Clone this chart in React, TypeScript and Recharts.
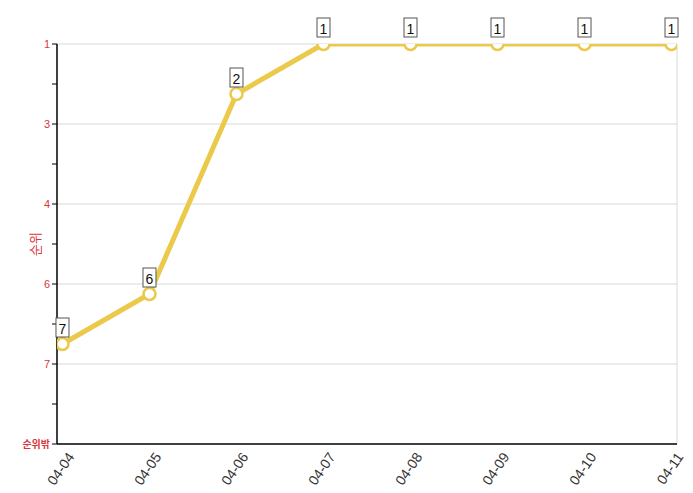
import React from 'react';
import { LineChart, Line, XAxis, YAxis, ReferenceLine, LabelList } from 'recharts';

const dates = ['04-04', '04-05', '04-06', '04-07', '04-08', '04-09', '04-10', '04-11'];
const ranks = [7, 6, 2, 1, 1, 1, 1, 1];
const outRank = 9;
const yMajorTicks = [1, 2.6, 4.2, 5.8, 7.4, 9];
const yMinorTicks = [1.8, 3.4, 5, 6.6, 8.2];

const data = dates.map((d, i) => ({ i, date: d, rank: ranks[i] }));

const pad = 0.063;
const xDomain: [number, number] = [-pad, dates.length - 1 + pad];
const xMinorTicks = Array.from({ length: 21 }, (_, k) => xDomain[0] + (k * (xDomain[1] - xDomain[0])) / 20);
const yTicks = [...yMajorTicks, ...yMinorTicks].sort((a, b) => a - b);

const LINE_COLOR = '#ebc94a';
const LABEL_RED = '#d9363e';

const YTick = (props: any) => {
  const { x, y, payload } = props;
  const v = payload.value;
  const isMajor = yMajorTicks.some((m) => Math.abs(m - v) < 1e-6);
  if (!isMajor) return null;
  const isOut = Math.abs(v - outRank) < 1e-6;
  const label = isOut ? '순위밖' : String(Math.round(v));
  return (
    <text
      x={x}
      y={y}
      dy={4}
      textAnchor="end"
      fill={LABEL_RED}
      fontSize={isOut ? 10 : 11}
      fontWeight={isOut ? 'bold' : 'normal'}
      fontFamily="'Liberation Sans', 'Noto Sans CJK KR', Arial, sans-serif"
    >
      {label}
    </text>
  );
};

const XTick = (props: any) => {
  const { x, payload } = props;
  const label = dates[Math.round(payload.value)] ?? '';
  const ax = x + 4;
  const ay = 451;
  return (
    <text
      x={ax}
      y={ay}
      textAnchor="end"
      dominantBaseline="hanging"
      transform={`rotate(-55, ${ax}, ${ay})`}
      fill="#333"
      fontSize={14}
      fontFamily="'Liberation Sans', Arial, sans-serif"
    >
      {label}
    </text>
  );
};

const YLabel = (props: any) => {
  const vb = props.viewBox || {};
  const cx = 34;
  const cy = (vb.y ?? 44) + (vb.height ?? 400) / 2;
  return (
    <text
      x={cx}
      y={cy}
      textAnchor="middle"
      dominantBaseline="central"
      transform={`rotate(-90, ${cx}, ${cy})`}
      fill={LABEL_RED}
      fontSize={13}
      fontFamily="'Noto Sans CJK KR', sans-serif"
    >
      순위
    </text>
  );
};

const PointLabel = (props: any) => {
  const { x, y, value } = props;
  const w = 13;
  const h = 19;
  const bx = x - w / 2;
  const by = y - 7 - h;
  return (
    <g>
      <rect x={bx} y={by} width={w} height={h} fill="#fff" stroke="#555" strokeWidth={1} />
      <text
        x={x}
        y={by + h / 2 + 1}
        textAnchor="middle"
        dominantBaseline="central"
        fill="#111"
        fontSize={14}
        fontFamily="'Liberation Sans', Arial, sans-serif"
      >
        {value}
      </text>
    </g>
  );
};

const Dot = (props: any) => {
  const { cx, cy } = props;
  return <circle cx={cx} cy={cy} r={6} fill="#fff" stroke={LINE_COLOR} strokeWidth={2.5} />;
};

export default function App() {
  return (
    <div style={{ position: 'absolute', left: 0, top: 0 }}>
      <LineChart
        width={693}
        height={493}
        data={data}
        margin={{ top: 44, right: 16, bottom: 0, left: 0 }}
      >
        <XAxis
          xAxisId="a_minor"
          type="number"
          dataKey="i"
          domain={xDomain}
          ticks={xMinorTicks}
          allowDataOverflow
          tick={false}
          tickSize={5}
          height={1}
          axisLine={{ stroke: '#000', strokeWidth: 1.5 }}
          tickLine={{ stroke: '#000' }}
        />
        <XAxis
          xAxisId="b_lbl"
          type="number"
          dataKey="i"
          domain={xDomain}
          ticks={dates.map((_, i) => i)}
          allowDataOverflow
          axisLine={false}
          tickLine={false}
          height={48}
          interval={0}
          tick={<XTick />}
        />
        <YAxis
          type="number"
          domain={[1, outRank]}
          reversed
          ticks={yTicks}
          interval={0}
          allowDataOverflow
          width={57}
          tickSize={5}
          axisLine={{ stroke: '#000', strokeWidth: 1.5 }}
          tickLine={{ stroke: '#000' }}
          tick={<YTick />}
          label={<YLabel />}
        />
        {yMajorTicks.slice(0, -1).map((v) => (
          <ReferenceLine key={v} xAxisId="b_lbl" y={v} stroke="#d9d9d9" strokeWidth={1} />
        ))}
        <ReferenceLine xAxisId="b_lbl" x={xDomain[1]} stroke="#d9d9d9" strokeWidth={1} />
        <Line
          xAxisId="b_lbl"
          type="linear"
          dataKey="rank"
          stroke={LINE_COLOR}
          strokeWidth={5}
          dot={<Dot />}
          activeDot={false}
          isAnimationActive={false}
        >
          <LabelList dataKey="rank" content={<PointLabel />} />
        </Line>
      </LineChart>
    </div>
  );
}
